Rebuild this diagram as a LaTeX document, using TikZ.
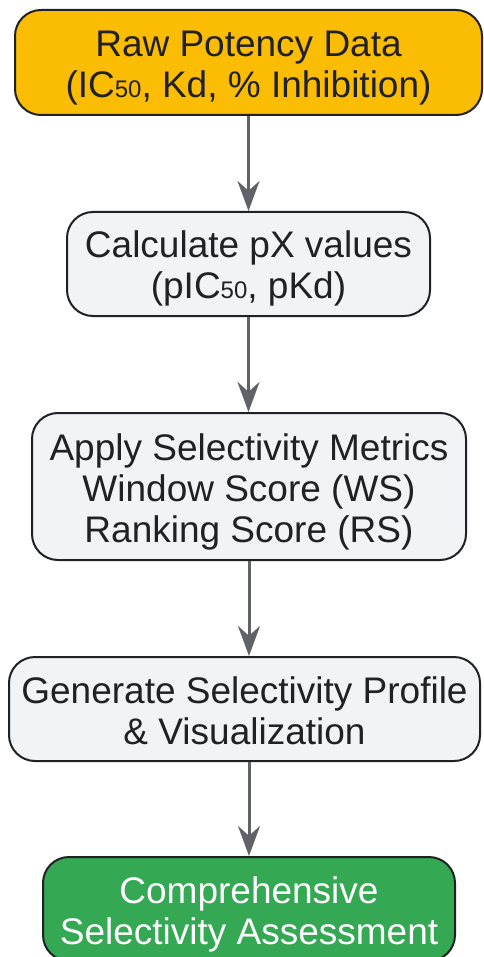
\documentclass[tikz,border=0pt]{standalone}
\usepackage{fontspec}
\setmainfont{Liberation Sans}
\usetikzlibrary{arrows.meta,positioning}
\definecolor{potyellow}{HTML}{FBBC04}
\definecolor{stepgray}{HTML}{F1F3F4}
\definecolor{resgreen}{HTML}{34A853}
\definecolor{inkdark}{HTML}{202124}
\definecolor{arrowgray}{HTML}{5F6368}
\newcommand{\subnum}[1]{{\fontsize{24}{24}\selectfont #1}}
% lines of a box, set a little below its middle
\newcommand{\boxlines}[1]{\raisebox{0pt}[\dimexpr\height+12.6pt][\depth]{\begin{tabular}{@{}c@{}}#1\end{tabular}}}

\begin{document}
\begin{tikzpicture}[x=1pt,y=-1pt,>={Stealth[length=30pt,width=22pt]},
	box/.style={draw=inkdark, line width=2pt, rounded corners=26pt,
		inner sep=0pt, text=inkdark,
		font=\fontsize{37}{41}\selectfont},
	link/.style={->, draw=arrowgray, line width=3pt}]
	\useasboundingbox (0,0) rectangle (483,957);

	\node[box, fill=potyellow, minimum width=467pt, minimum height=105pt] (raw) at (248.5,62.5)
		{\boxlines{Raw Potency Data\\(IC\subnum{50}, Kd, \% Inhibition)}};
	\node[box, fill=stepgray, minimum width=363pt, minimum height=104pt] (px) at (248.5,264)
		{\boxlines{Calculate pX values\\(pIC\subnum{50}, pKd)}};
	\node[box, fill=stepgray, minimum width=434pt, minimum height=147pt] (metrics) at (249,486.5)
		{\boxlines{Apply Selectivity Metrics\\Window Score (WS)\\Ranking Score (RS)}};
	\node[box, fill=stepgray, minimum width=471pt, minimum height=104pt] (profile) at (244.5,709)
		{\boxlines{Generate Selectivity Profile\\\& Visualization}};
	\node[box, fill=resgreen, text=white, minimum width=412pt, minimum height=104pt] (assess) at (249,909)
		{\boxlines{Comprehensive\\Selectivity Assessment}};

	\draw[link] (raw.south) to (raw.south |- px.north);
	\draw[link] (px.south) to (px.south |- metrics.north);
	\draw[link] (metrics.south) to (metrics.south |- profile.north);
	\draw[link] (metrics.south |- profile.south) to (metrics.south |- assess.north);

\end{tikzpicture}
\end{document}
